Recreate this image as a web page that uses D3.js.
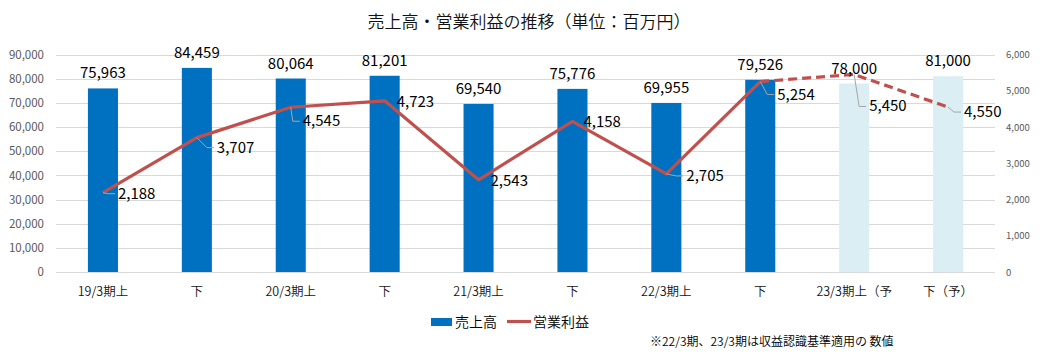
<!DOCTYPE html>
<html lang="ja">
<head>
<meta charset="utf-8">
<title>売上高・営業利益の推移</title>
<script src="https://cdn.jsdelivr.net/npm/d3@7"></script>
<style>
  body { margin: 0; background: #fff; }
  svg { display: block; font-family: "Noto Sans CJK JP", "Noto Sans", sans-serif; }
  .grid line { stroke: #d9d9d9; stroke-width: 1; }
  .cjk { font-weight: 350; }
</style>
</head>
<body>
<svg width="1045" height="363"></svg>
<script>
// data (百万円)
var categories = ["19/3期上", "下", "20/3期上", "下", "21/3期上", "下", "22/3期上", "下", "23/3期上（予", "下（予）"];
var sales = [75963, 84459, 80064, 81201, 69540, 75776, 69955, 79526, 78000, 81000];
var profit = [2188, 3707, 4545, 4723, 2543, 4158, 2705, 5254, 5450, 4550];
var isForecast = [false, false, false, false, false, false, false, false, true, true];
var salesTicks = [0, 10000, 20000, 30000, 40000, 50000, 60000, 70000, 80000, 90000];
var profitTicks = [0, 1000, 2000, 3000, 4000, 5000, 6000];

// label nudges for the profit labels (px, from the point: left edge / middle)
var profitLabelShift = [[15, 1], [20, 10], [12, 14], [12, 1], [12, 1], [11, 1], [20, 2], [17, 13], [15, 32], [16, 5]];

var svg = d3.select("svg");
var plotL = 56, plotR = 995, plotT = 54.5, plotB = 272;

var x = d3.scaleBand()
    .domain(d3.range(categories.length))
    .range([plotL, plotR])
    .paddingInner(0.68)
    .paddingOuter(0.34);
var cx = function(i) { return x(i) + x.bandwidth() / 2; };

var ySales = d3.scaleLinear().domain([0, 90000]).range([plotB, plotT]);
var yProfit = d3.scaleLinear().domain([0, 6000]).range([plotB, plotT]);
var fmt = d3.format(",");

// title
svg.append("text")
    .attr("class", "cjk")
    .attr("x", 529)
    .attr("y", 28)
    .attr("text-anchor", "middle")
    .attr("font-size", 17)
    .attr("fill", "#111")
    .text("売上高・営業利益の推移（単位：百万円）");

// gridlines
svg.append("g")
    .attr("class", "grid")
    .selectAll("line")
    .data(salesTicks)
    .enter().append("line")
    .attr("x1", plotL).attr("x2", plotR)
    .attr("y1", function(d) { return Math.round(ySales(d)) + 0.5; })
    .attr("y2", function(d) { return Math.round(ySales(d)) + 0.5; });

// left axis
var gL = svg.append("g")
    .attr("transform", "translate(" + (plotL - 6) + ",0)")
    .call(d3.axisLeft(ySales).tickValues(salesTicks).tickFormat(fmt).tickSize(0).tickPadding(6));
gL.select(".domain").remove();
gL.selectAll("text").attr("font-size", 11.5).attr("fill", "#595959").attr("font-family", "Noto Sans CJK JP");

// right axis
var gR = svg.append("g")
    .attr("transform", "translate(" + (plotR + 5) + ",0)")
    .call(d3.axisRight(yProfit).tickValues(profitTicks).tickFormat(fmt).tickSize(0).tickPadding(6));
gR.select(".domain").remove();
gR.selectAll("text").attr("font-size", 9.5).attr("fill", "#595959").attr("font-family", "Noto Sans CJK JP");

// category labels
svg.append("g")
    .selectAll("text")
    .data(categories)
    .enter().append("text")
    .attr("class", "cjk")
    .attr("x", function(d, i) { return cx(i); })
    .attr("y", 296)
    .attr("text-anchor", "middle")
    .attr("font-size", 12.5)
    .attr("fill", "#111")
    .text(function(d) { return d; });

// bars
svg.append("g")
    .selectAll("rect")
    .data(sales)
    .enter().append("rect")
    .attr("x", function(d, i) { return x(i); })
    .attr("width", x.bandwidth())
    .attr("y", function(d) { return ySales(d); })
    .attr("height", function(d) { return ySales(0) - ySales(d); })
    .attr("fill", function(d, i) { return isForecast[i] ? "#daeef3" : "#0070c0"; });

// profit line: solid for results, dashed into the forecast points
var line = d3.line()
    .x(function(d) { return cx(d.i); })
    .y(function(d) { return yProfit(d.v); });
var pts = profit.map(function(v, i) { return { i: i, v: v }; });
var firstFc = isForecast.indexOf(true);

svg.append("path")
    .datum(pts.slice(0, firstFc))
    .attr("d", line)
    .attr("fill", "none")
    .attr("stroke", "#c0504d")
    .attr("stroke-width", 3.2)
    .attr("stroke-linejoin", "round");
svg.append("path")
    .datum(pts.slice(firstFc - 1))
    .attr("d", line)
    .attr("fill", "none")
    .attr("stroke", "#c0504d")
    .attr("stroke-width", 3.2)
    .attr("stroke-dasharray", "9,5");

// bar value labels
svg.append("g")
    .selectAll("text")
    .data(sales)
    .enter().append("text")
    .attr("x", function(d, i) { return cx(i); })
    .attr("y", function(d) { return ySales(d) - 15 + 5; })
    .attr("text-anchor", "middle")
    .attr("font-size", 15)
    .attr("fill", "#000")
    .text(function(d) { return fmt(d); });

// profit value labels with leader lines
var labels = svg.append("g");
pts.forEach(function(p, k) {
  var px = cx(p.i), py = yProfit(p.v);
  var lx = px + profitLabelShift[k][0], ly = py + profitLabelShift[k][1];
  if (profitLabelShift[k][0] > 13 || profitLabelShift[k][1] > 4) {
    var ex = Math.max(px, lx - 10);
    labels.append("path")
        .attr("d", "M" + px + "," + py + "L" + ex + "," + ly + "L" + (lx - 3) + "," + ly)
        .attr("fill", "none")
        .attr("stroke", "#a6a6a6")
        .attr("stroke-width", 1);
  }
  labels.append("text")
      .attr("x", lx)
      .attr("y", ly + 5)
      .attr("font-size", 15)
      .attr("fill", "#000")
      .text(fmt(p.v));
});

// legend
var lg = svg.append("g").attr("class", "cjk");
lg.append("rect").attr("x", 431).attr("y", 318).attr("width", 21).attr("height", 8).attr("fill", "#0070c0");
lg.append("text").attr("x", 455).attr("y", 327).attr("font-size", 14).attr("fill", "#000").text("売上高");
lg.append("line").attr("x1", 507).attr("x2", 531).attr("y1", 321.5).attr("y2", 321.5)
    .attr("stroke", "#c0504d").attr("stroke-width", 3.2);
lg.append("text").attr("x", 533).attr("y", 327).attr("font-size", 14).attr("fill", "#000").text("営業利益");

// note
svg.append("text")
    .attr("class", "cjk")
    .attr("x", 650)
    .attr("y", 346)
    .attr("font-size", 12)
    .attr("fill", "#000")
    .text("※22/3期、23/3期は収益認識基準適用の 数値");
</script>
</body>
</html>
